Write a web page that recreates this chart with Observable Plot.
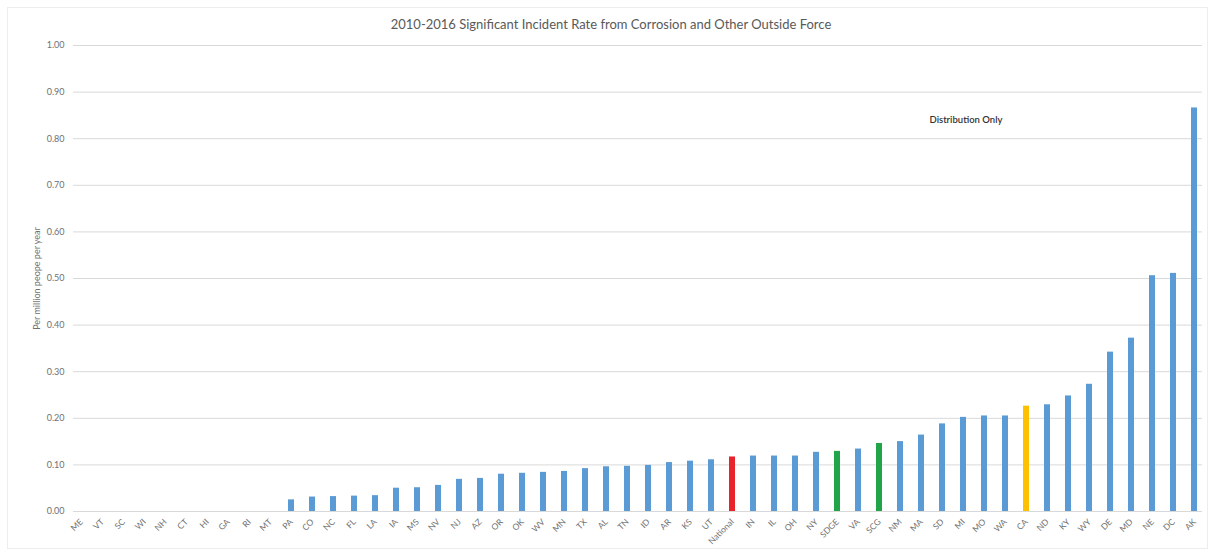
<!DOCTYPE html>
<html>
<head>
<meta charset="utf-8">
<script src="https://cdn.jsdelivr.net/npm/d3@7"></script>
<script src="https://cdn.jsdelivr.net/npm/@observablehq/plot@0.6"></script>
<style>
  html, body { margin: 0; padding: 0; background: #fff; }
  #wrap { position: relative; width: 1211px; height: 552px; }
  #border { position: absolute; left: 7px; top: 7px; width: 1201px; height: 542px; border: 1px solid #ededed; box-sizing: border-box; }
  #chart { position: absolute; left: 0; top: 0; }
</style>
</head>
<body>
<div id="wrap"><div id="border"></div><div id="chart"></div></div>
<script>
const title = "2010-2016 Significant Incident Rate from Corrosion and Other Outside Force";
const yLabel = "Per million peope per year";
const note = "Distribution Only";
const noteState = "MA";
const noteValue = 0.84;

const states = ["ME","VT","SC","WI","NH","CT","HI","GA","RI","MT","PA","CO","NC","FL","LA","IA","MS","NV","NJ","AZ","OR","OK","WV","MN","TX","AL","TN","ID","AR","KS","UT","National","IN","IL","OH","NY","SDGE","VA","SCG","NM","MA","SD","MI","MO","WA","CA","ND","KY","WY","DE","MD","NE","DC","AK"];
const values = [0,0,0,0,0,0,0,0,0,0,0.025,0.031,0.032,0.033,0.034,0.050,0.051,0.056,0.069,0.071,0.080,0.082,0.084,0.086,0.092,0.096,0.097,0.099,0.105,0.108,0.111,0.117,0.119,0.119,0.119,0.127,0.129,0.134,0.146,0.150,0.164,0.188,0.202,0.205,0.205,0.226,0.229,0.248,0.273,0.342,0.372,0.506,0.511,0.866];
const groups = states.map(s => s === "National" ? "National" : (s === "SDGE" || s === "SCG") ? "Utility" : s === "CA" ? "California" : "State");
const groupNames = ["State","National","Utility","California"];
const groupColors = ["#5b9bd5","#e8232a","#21a548","#ffc000"];
const yTicks = [0,0.1,0.2,0.3,0.4,0.5,0.6,0.7,0.8,0.9,1.0];

const data = states.map((s, i) => ({state: s, value: values[i], group: groups[i]}));

const chart = Plot.plot({
  width: 1211,
  height: 552,
  marginTop: 45,
  marginBottom: 41,
  marginLeft: 73,
  marginRight: 9,
  style: {fontFamily: "Lato, 'Open Sans', sans-serif", background: "transparent"},
  x: {type: "band", domain: states, paddingInner: 0.7, paddingOuter: 0.18},
  y: {domain: [0, 1]},
  color: {domain: groupNames, range: groupColors},
  marks: [
    Plot.ruleY(yTicks, {stroke: "#d9d9d9", strokeWidth: 1}),
    Plot.barY(data, {x: "state", y: "value", fill: "group"}),
    Plot.axisY({ticks: yTicks, tickFormat: d3.format(".2f"), tickSize: 0, tickPadding: 9, fontSize: 9, fill: "#707070",
      label: yLabel, labelAnchor: "center", labelOffset: 40, labelArrow: "none"}),
    Plot.axisX({tickRotate: -45, tickSize: 0, tickPadding: 9, fontSize: 8.5, fill: "#707070", label: null}),
    Plot.text([title], {frameAnchor: "top", dy: -21, dx: -27, lineAnchor: "middle", fontSize: 13, fill: "#595959"}),
    Plot.text([{s: noteState, v: noteValue, t: note}], {x: "s", y: "v", text: "t", textAnchor: "start", dx: 8, fontSize: 9.5, fill: "#333", fontWeight: 600})
  ]
});
document.getElementById("chart").appendChild(chart);
</script>
</body>
</html>
